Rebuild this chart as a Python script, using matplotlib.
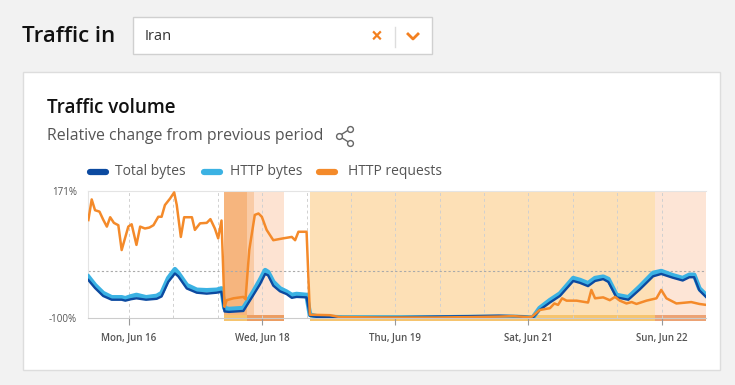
import matplotlib
matplotlib.use("Agg")
from matplotlib import pyplot as plt
from matplotlib.patches import Rectangle
from matplotlib.lines import Line2D
import matplotlib.transforms as mtransforms

plt.rcParams['font.family'] = ['Open Sans', 'DejaVu Sans']

# hours since Mon, Jun 16 00:00
req_hours = [1, 1.9, 2.8, 4, 5, 6, 6.9, 7.9, 9.1, 10, 11.8, 12.7, 14, 15, 16.3, 17.5, 18.6,
             19.9, 20.8, 21.7, 23.1, 24.2, 24.9, 26, 26.9, 29, 29.8, 31.2, 33, 34, 35.2, 36.1,
             37, 37.8, 38.4, 40.2, 42.9, 43.5, 44.5, 46, 47, 47.9, 49.2, 51, 53.7, 56, 56.9,
             57.8, 60, 60.9, 66.3, 69, 80, 95, 105, 112, 115.9, 119.8, 121, 123, 125.8, 127,
             128, 129.1, 130.3, 133, 136.1, 137, 138, 140.2, 142, 143.4, 144.7, 146.5, 147.9,
             149.2, 151.9, 154.6, 155.9, 157.3, 160, 164, 166.2, 168]
http_requests = [109, 153, 130, 127, 110, 95, 115, 103, 98, 45, 95, 100, 56, 95, 91, 93, 98,
                 116, 116, 141, 155, 168, 141, 73, 115, 115, 88, 102, 103, 111, 91, 70,
                 108, -76, -62, -58, -55, -60, 45, 120, 123, 116, 88, 66, 70, 73, 66,
                 84, 84, -93, -94, -98, -99, -99, -98, -97, -96, -98, -97, -83, -79, -69,
                 -72, -58, -63, -63, -67, -40, -58, -56, -62, -55, -63, -69, -66,
                 -70, -63, -58, -40, -58, -69, -66, -70, -72]

bytes_hours = [1, 2.8, 5, 7.3, 10, 11, 12.5, 14, 16.6, 19.5, 20.8, 22.6, 24.4, 25.3, 27.6, 30.3,
               33, 35.7, 37, 37.8, 39, 42.9, 45.6, 47.4, 48.8, 49.6, 51, 52.8, 54.6, 56, 57.3,
               60, 60.9, 63, 70, 80, 95, 105, 112, 117, 120, 121.2, 123, 125.8, 128.5, 132.1,
               133.9, 136.1, 138, 140.2, 141.6, 143.8, 147, 150.1, 153.7, 155.9, 159, 161.7,
               163.5, 164.8, 166.2, 168]
http_bytes = [-12, -30, -47, -56, -56, -58, -54, -51, -56, -53, -47, -15, 4, -4, -30, -40,
              -41, -40, -37, -79, -81, -79, -44, -19, 2, -2, -23, -37, -44, -51, -49,
              -51, -93, -97, -99, -99, -99, -98, -98, -98, -99, -99, -79, -62, -48, -15,
              -19, -26, -15, -12, -17, -51, -56, -33, -4, 0, -9, -15, -8, -8, -37, -51]
total_bytes = [-19, -36, -53, -61, -61, -63, -60, -58, -61, -59, -54, -23, -5, -11, -37, -46,
               -48, -46, -44, -86, -87, -85, -51, -28, -6, -9, -31, -43, -49, -57, -55,
               -56, -95, -98, -99, -99, -97, -96, -95, -96, -98, -99, -83, -67, -53, -21,
               -25, -32, -21, -17, -23, -56, -61, -39, -11, -6, -14, -20, -13, -13, -41, -55]

tick_hours = [12, 48, 84, 120, 156]
tick_labels = ["Mon, Jun 16", "Wed, Jun 18", "Thu, Jun 19", "Sat, Jun 21", "Sun, Jun 22"]

# shaded periods (start hour, end hour, colour)
spans = [(37.8, 43.8, "#f6b57e"), (43.8, 45.9, "#f9cba6"), (45.9, 53.9, "#fde3d2"),
         (60.9, 154.3, "#fde0b6"), (154.3, 168, "#fde5d6")]
strips = [(37.8, 43.8, "#f6c46e"), (43.8, 53.9, "#ec9d62"),
          (60.9, 154.3, "#f6c46e"), (154.3, 168, "#eca274")]

W, H = 735, 385
fig = plt.figure(figsize=(W / 100, H / 100), dpi=100)
fig.patch.set_facecolor("#f2f2f2")


def fx(x):
    return x / W


def fy(y):
    return 1 - y / H


# card
fig.patches.append(Rectangle((fx(23), fy(370)), fx(720) - fx(23), fy(72) - fy(370),
                             transform=fig.transFigure, facecolor="white",
                             edgecolor="#dddddd", lw=1, zorder=-2))
# dropdown box
fig.patches.append(Rectangle((fx(133), fy(54)), fx(432) - fx(133), fy(17) - fy(54),
                             transform=fig.transFigure, facecolor="white",
                             edgecolor="#d0d0d0", lw=1, zorder=-2))

fig.text(fx(22), fy(37), "Traffic in", fontsize=16, fontweight="semibold", color="#111111",
         va="center")
fig.text(fx(145), fy(37), "Iran", fontsize=10.5, color="#333333", va="center")
fig.text(fx(377), fy(37), "×", fontsize=15, fontweight="bold", color="#f38020",
         va="center", ha="center")
fig.lines.append(Line2D([fx(395), fx(395)], [fy(27), fy(47)], transform=fig.transFigure,
                        color="#dddddd", lw=1))
fig.lines.append(Line2D([fx(408), fx(413), fx(418)], [fy(34), fy(39), fy(34)],
                        transform=fig.transFigure, color="#f38020", lw=2))

fig.text(fx(47), fy(108), "Traffic volume", fontsize=13.5, fontweight="semibold",
         color="#111111", va="center")
fig.text(fx(47), fy(136), "Relative change from previous period", fontsize=11.4,
         color="#555555", va="center")
# share icon
sx = [fx(350), fx(339), fx(350)]
sy = [fy(129), fy(136), fy(143)]
fig.lines.append(Line2D(sx, sy, transform=fig.transFigure, color="#666666", lw=1))
fig.lines.append(Line2D(sx, sy, transform=fig.transFigure, ls="none", marker="o",
                        markersize=4.2, markerfacecolor="white", markeredgecolor="#666666",
                        markeredgewidth=1))

# legend
legend_items = [(90, 115, "Total bytes", "#0c4aa0"),
                (204, 230, "HTTP bytes", "#3bb2e3"),
                (319, 348, "HTTP requests", "#f48a2a")]
for x0, xt, name, col in legend_items:
    fig.lines.append(Line2D([fx(x0), fx(x0 + 16)], [fy(172), fy(172)],
                            transform=fig.transFigure, color=col, lw=4.5,
                            solid_capstyle="round"))
    fig.text(fx(xt), fy(172), name, fontsize=10, color="#555555", va="center")

ax = fig.add_axes([fx(88), fy(318), fx(706) - fx(88), fy(191) - fy(318)])
ax.set_zorder(3)
ax.set_facecolor("white")
ax.set_xlim(0.9, 168)
ax.set_ylim(-100, 171)

for a, b, c in spans:
    ax.axvspan(a, b, color=c, lw=0, zorder=0)

trans = mtransforms.blended_transform_factory(ax.transData, ax.transAxes)
for a, b, c in strips:
    ax.add_patch(Rectangle((a, -0.02), b - a, 0.045, transform=trans, facecolor=c,
                           lw=0, clip_on=False, zorder=1))

for h in range(12, 168, 12):
    ax.axvline(h, color="#d0d0d0", lw=0.7, ls=(0, (3, 3)), zorder=1)
ax.axhline(0, color="#aaaaaa", lw=0.8, ls=(0, (2, 2)), zorder=1)

ax.plot(bytes_hours, http_bytes, color="#3bb2e3", lw=3.4, zorder=3, solid_joinstyle="round")
ax.plot(bytes_hours, total_bytes, color="#0c4aa0", lw=1.7, zorder=4, solid_joinstyle="round")
ax.plot(req_hours, http_requests, color="#f48a2a", lw=1.8, zorder=5, solid_joinstyle="round")

ax.set_yticks([-100, 171])
ax.set_yticklabels(["-100%", "171%"], fontsize=7, color="#555555")
ax.set_xticks(tick_hours)
ax.set_xticklabels(tick_labels, fontsize=7, color="#555555", fontweight="semibold")
ax.tick_params(axis="y", length=0, pad=8)
ax.tick_params(axis="x", length=5, color="#999999", pad=6)

for side in ["top", "left", "right"]:
    ax.spines[side].set_color("#e4e4e4")
ax.spines["right"].set_visible(False)
ax.spines["bottom"].set_color("#cccccc")

fig.savefig("out.png", dpi=100, facecolor=fig.get_facecolor())
